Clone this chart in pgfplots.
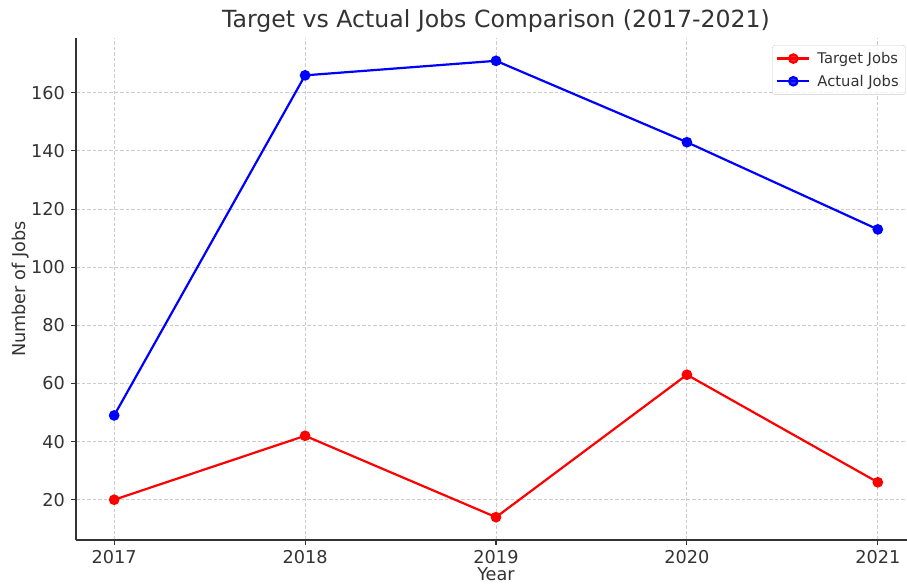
\documentclass[border=0pt]{standalone}
\usepackage{fontspec}
\setmainfont{DejaVu Sans}
\usepackage{pgfplots}
\pgfplotsset{compat=1.18}
\definecolor{txt}{HTML}{333333}
\begin{document}
\begin{tikzpicture}
\useasboundingbox (0,0) rectangle (907bp,584bp);
\begin{axis}[
  at={(76bp,44bp)}, anchor=south west,
  scale only axis, width=840bp, height=502bp,
  xmin=2016.8, xmax=2021.2, ymin=6.15, ymax=178.85,
  axis x line*=bottom, axis y line*=left,
  axis line style={-, txt, line width=1.4bp},
  tick align=outside, major tick length=5bp,
  tick style={txt, line width=1.1bp},
  xtick={2017,2018,2019,2020,2021},
  ytick={20,40,60,80,100,120,140,160},
  /pgf/number format/assume math mode=true,
  /pgf/number format/1000 sep={},
  ticklabel style={font=\fontsize{17.7bp}{21bp}\selectfont, text=txt},
  xticklabel style={anchor=base, inner sep=0pt, yshift=-18bp},
  yticklabel style={anchor=east, inner sep=0pt, xshift=-6bp},
  grid=major,
  major grid style={dash pattern=on 3.5bp off 2bp, black!20, line width=0.9bp},
  title={Target vs Actual Jobs Comparison (2017-2021)},
  title style={at={(axis description cs:0.5,1)}, anchor=base, inner sep=0pt, yshift=5bp,
    font=\fontsize{23.6bp}{28bp}\selectfont, text=txt},
  xlabel={Year},
  xlabel style={at={(axis description cs:0.5,0)}, anchor=base, inner sep=0pt, yshift=-40bp,
    font=\fontsize{17.7bp}{21bp}\selectfont, text=txt},
  ylabel={Number of Jobs},
  ylabel style={at={([xshift=-50bp]axis description cs:0,0.5)}, anchor=base, inner sep=0pt,
    font=\fontsize{17.7bp}{21bp}\selectfont, text=txt},
  legend cell align=left,
  legend image code/.code={\draw[mark repeat=2, mark phase=2] plot coordinates {(0bp,0bp) (16bp,0bp) (32bp,0bp)};},
  legend style={at={(rel axis cs:0.8286,0.986)}, anchor=north west,
    draw=black!20, rounded corners=3bp, fill=white, fill opacity=0.8, text opacity=1,
    font=\fontsize{14.75bp}{17bp}\selectfont, text=txt,
    inner xsep=4bp, inner ysep=4.5bp, row sep=5bp, column sep=4bp,
    nodes={inner xsep=3bp, inner ysep=2.5bp}},
]
\addplot[red, line width=2.2bp, mark=*, mark size=4.2bp, mark options={solid, fill=red, draw=red}]
  coordinates {(2017,20) (2018,42) (2019,14) (2020,63) (2021,26)};
\addlegendentry{Target Jobs}
\addplot[blue, line width=2.2bp, mark=*, mark size=4.2bp, mark options={solid, fill=blue, draw=blue}]
  coordinates {(2017,49) (2018,166) (2019,171) (2020,143) (2021,113)};
\addlegendentry{Actual Jobs}
\end{axis}
\end{tikzpicture}
\end{document}
